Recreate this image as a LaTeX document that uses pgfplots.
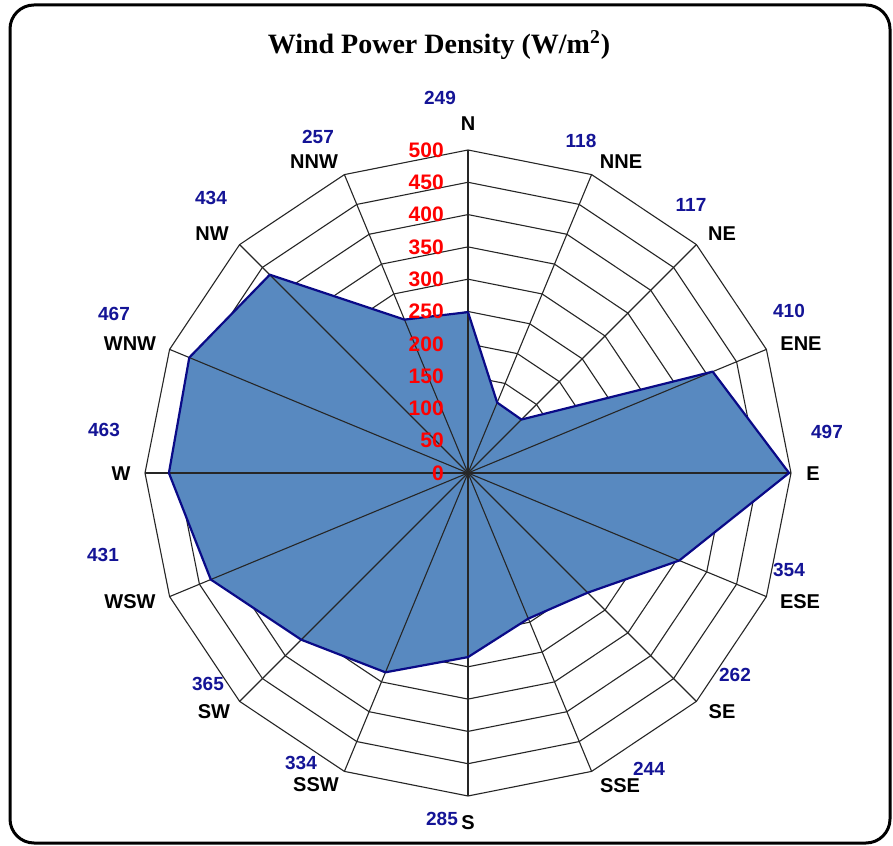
\documentclass[border=0pt]{standalone}
\usepackage{fontspec}
\setmainfont{Liberation Sans}
\newfontfamily\titlefont{Liberation Serif}
\usepackage{pgfplots}
\pgfplotsset{compat=1.18}

\definecolor{areafill}{RGB}{88,137,192}
\definecolor{areaedge}{RGB}{10,10,135}
\definecolor{vallab}{RGB}{20,20,150}

% axis units per reference pixel
\newcommand{\px}{1.548}

\begin{document}
\begin{tikzpicture}
\useasboundingbox (0,0) rectangle (446.5pt,422.5pt);
\fill[white] (0,0) rectangle (446.5pt,422.5pt);
\draw[line width=1.5pt, rounded corners=12pt] (5pt,1pt) rectangle (445pt,420pt);
\node[font=\titlefont\bfseries\fontsize{14}{16}\selectfont] at (219.5pt,400pt)
  {Wind Power Density (W/m\textsuperscript{2})};

\begin{axis}[
    at={(234pt,186pt)}, anchor=center,
    x=0.323pt, y=0.323pt,
    xmin=-600, xmax=600, ymin=-600, ymax=600,
    hide axis, clip=false,
]
% polygon rings
\pgfplotsinvokeforeach{50,100,150,200,250,300,350,400,450,500}{
  \addplot[black!85, line width=0.55pt, data cs=polar] coordinates {
    (90,#1) (67.5,#1) (45,#1) (22.5,#1) (0,#1) (-22.5,#1) (-45,#1) (-67.5,#1)
    (-90,#1) (-112.5,#1) (-135,#1) (-157.5,#1) (180,#1) (157.5,#1) (135,#1)
    (112.5,#1) (90,#1)
  };
}

% wind power density
\addplot[fill=areafill, draw=none, data cs=polar] coordinates {
  (90,249) (67.5,118) (45,117) (22.5,410) (0,497) (-22.5,354) (-45,262)
  (-67.5,244) (-90,285) (-112.5,334) (-135,365) (-157.5,431) (180,463)
  (157.5,467) (135,434) (112.5,257) (90,249)
} -- cycle;

% spokes
\pgfplotsinvokeforeach{90,67.5,45,22.5,0,-22.5,-45,-67.5}{
  \addplot[black!85, line width=0.55pt, data cs=polar] coordinates {(#1,500) (#1+180,500)};
}

\addplot[draw=areaedge, line width=1.1pt, line join=round, data cs=polar] coordinates {
  (90,249) (67.5,118) (45,117) (22.5,410) (0,497) (-22.5,354) (-45,262)
  (-67.5,244) (-90,285) (-112.5,334) (-135,365) (-157.5,431) (180,463)
  (157.5,467) (135,434) (112.5,257) (90,249)
} -- cycle;

% red radial tick labels
\pgfplotsinvokeforeach{0,50,100,150,200,250,300,350,400,450,500}{
  \node[anchor=east, text=red, font=\bfseries\fontsize{10.5}{12}\selectfont, inner sep=0pt]
    at (axis cs:-37,#1) {#1};
}

% direction labels
\begin{scope}[every node/.style={font=\bfseries\fontsize{10}{12}\selectfont, inner sep=0pt}]
\node at (axis cs:{0*\px},{349*\px}) {N};
\node at (axis cs:{153*\px},{311*\px}) {NNE};
\node at (axis cs:{254*\px},{239*\px}) {NE};
\node at (axis cs:{333*\px},{129*\px}) {ENE};
\node at (axis cs:{345*\px},{-1*\px}) {E};
\node at (axis cs:{332*\px},{-129*\px}) {ESE};
\node at (axis cs:{254*\px},{-239*\px}) {SE};
\node at (axis cs:{152*\px},{-313*\px}) {SSE};
\node at (axis cs:{0*\px},{-350*\px}) {S};
\node at (axis cs:{-152*\px},{-312*\px}) {SSW};
\node at (axis cs:{-254*\px},{-239*\px}) {SW};
\node at (axis cs:{-338*\px},{-129*\px}) {WSW};
\node at (axis cs:{-347*\px},{-1*\px}) {W};
\node at (axis cs:{-338*\px},{129*\px}) {WNW};
\node at (axis cs:{-256*\px},{239*\px}) {NW};
\node at (axis cs:{-154*\px},{311*\px}) {NNW};
\end{scope}

% value labels
\begin{scope}[every node/.style={text=vallab, font=\bfseries\fontsize{9.5}{12}\selectfont, inner sep=0pt}]
\node at (axis cs:{-28*\px},{375*\px}) {249};
\node at (axis cs:{113*\px},{332*\px}) {118};
\node at (axis cs:{223*\px},{268*\px}) {117};
\node at (axis cs:{321*\px},{162*\px}) {410};
\node at (axis cs:{359*\px},{41*\px}) {497};
\node at (axis cs:{321*\px},{-97*\px}) {354};
\node at (axis cs:{267*\px},{-202*\px}) {262};
\node at (axis cs:{181*\px},{-296*\px}) {244};
\node at (axis cs:{-26*\px},{-346*\px}) {285};
\node at (axis cs:{-167*\px},{-290*\px}) {334};
\node at (axis cs:{-260*\px},{-211*\px}) {365};
\node at (axis cs:{-365*\px},{-82*\px}) {431};
\node at (axis cs:{-364*\px},{43*\px}) {463};
\node at (axis cs:{-354*\px},{159*\px}) {467};
\node at (axis cs:{-257*\px},{275*\px}) {434};
\node at (axis cs:{-150*\px},{336*\px}) {257};
\end{scope}
\end{axis}
\end{tikzpicture}
\end{document}
